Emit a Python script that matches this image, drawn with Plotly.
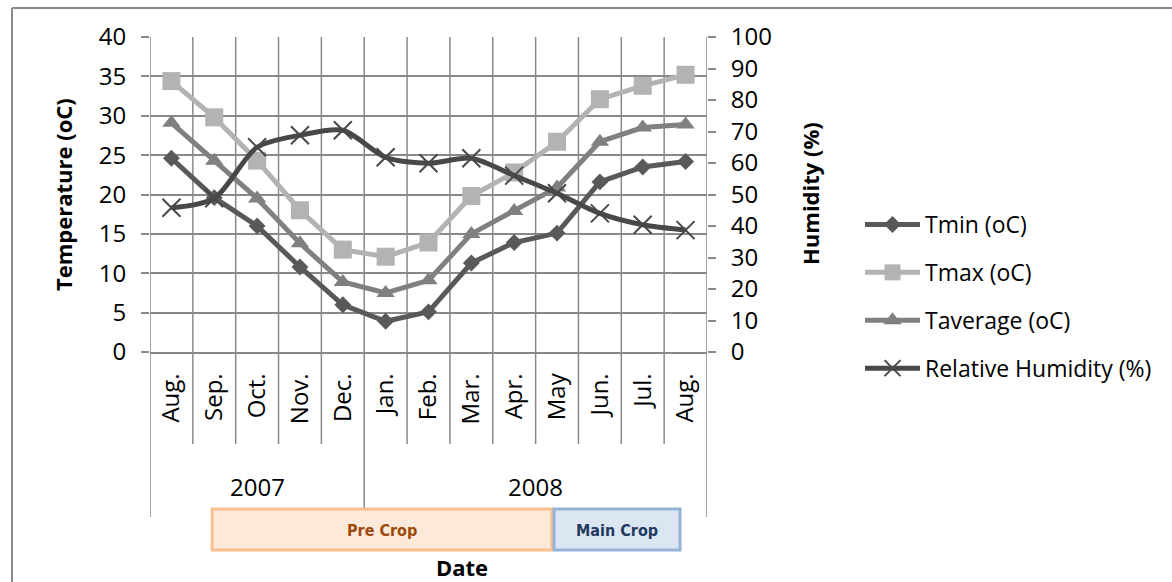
import plotly.graph_objects as go

# Monthly climate record, Aug 2007 - Aug 2008
months = ["Aug.", "Sep.", "Oct.", "Nov.", "Dec.", "Jan.", "Feb.",
          "Mar.", "Apr.", "May", "Jun.", "Jul.", "Aug."]
years = ["2007", "2008"]
year_first_month = [0, 5]          # index in `months` where each year starts

tmin = [24.6, 19.6, 16.0, 10.8, 6.0, 3.9, 5.1, 11.3, 13.9, 15.1, 21.6, 23.5, 24.2]
tmax = [34.4, 29.8, 24.3, 18.0, 13.0, 12.1, 13.9, 19.8, 22.8, 26.7, 32.1, 33.8, 35.2]
tavg = [29.1, 24.3, 19.5, 13.8, 8.9, 7.5, 9.1, 15.0, 17.9, 20.9, 26.7, 28.5, 28.9]
humidity = [45.8, 48.8, 65.0, 68.8, 70.4, 61.8, 59.9, 61.5, 56.0, 50.4, 44.0, 40.4, 38.7]

phases = ["Pre Crop", "Main Crop"]

# ---- page geometry ----
W, H = 1172, 582
ML, MR, MT, MB = 150, 465, 37, 230
PW, PH = W - ML - MR, H - MT - MB


def fx(px):
    """page x pixel -> paper fraction"""
    return (px - ML) / PW


def fy(py):
    """page y pixel -> paper fraction"""
    return (H - MB - py) / PH


GRID = "#898989"
FONT = "Open Sans, Noto Sans, sans-serif"
x = list(range(len(months)))

fig = go.Figure()

fig.add_trace(go.Scatter(
    x=x, y=tmin, name="Tmin (oC)", mode="lines+markers",
    line=dict(color="#595959", width=5),
    marker=dict(symbol="diamond", size=13, color="#595959"),
    legendgroup="a"))
fig.add_trace(go.Scatter(
    x=x, y=tmax, name="Tmax (oC)", mode="lines+markers",
    line=dict(color="#b3b3b3", width=5),
    marker=dict(symbol="square", size=18, color="#b3b3b3"),
    legendgroup="b"))
fig.add_trace(go.Scatter(
    x=x, y=tavg, name="Taverage (oC)", mode="lines+markers",
    line=dict(color="#808080", width=5),
    marker=dict(symbol="triangle-up", size=16, color="#808080"),
    legendgroup="c"))
fig.add_trace(go.Scatter(
    x=x, y=humidity, name="Relative Humidity (%)", mode="lines+markers",
    yaxis="y2",
    line=dict(color="#484848", width=5, shape="spline", smoothing=0.8),
    marker=dict(symbol="x-thin", size=18, color="#484848",
                line=dict(color="#484848", width=2)),
    legendgroup="d"))

shapes = []
# category boundaries: vertical grid in the plot, extended below as the
# two-level category axis dividers
year_edges = set(year_first_month[1:])
for b in range(len(months) + 1):
    long_line = b == 0 or b == len(months) or b in year_edges
    shapes.append(dict(
        type="line", xref="x", yref="paper",
        x0=b - 0.5, x1=b - 0.5, y0=1, y1=fy(517) if long_line else fy(444),
        line=dict(color=GRID, width=1.5), layer="below"))

# outer chart frame (left and top edges)
shapes.append(dict(type="line", xref="paper", yref="paper",
                   x0=fx(12), x1=fx(12), y0=fy(8), y1=fy(H + 5),
                   line=dict(color="#8a8a8a", width=2)))
shapes.append(dict(type="line", xref="paper", yref="paper",
                   x0=fx(12), x1=fx(W + 5), y0=fy(8), y1=fy(8),
                   line=dict(color="#8a8a8a", width=2)))

# crop phase boxes
phase_style = [
    dict(x0=0.95, x1=8.88, fill="#fde9d9", edge="#f9c08f", text="#9c4a0b"),
    dict(x0=8.93, x1=11.87, fill="#dce6f2", edge="#95b3d7", text="#1f3a5f"),
]
annotations = []
for label, st in zip(phases, phase_style):
    shapes.append(dict(type="rect", xref="x", yref="paper",
                       x0=st["x0"], x1=st["x1"], y0=fy(550), y1=fy(509),
                       fillcolor=st["fill"], line=dict(color=st["edge"], width=3)))
    annotations.append(dict(
        text=f"<b>{label}</b>", xref="x", yref="paper",
        x=(st["x0"] + st["x1"]) / 2, y=fy(530), showarrow=False,
        xanchor="center", yanchor="middle",
        font=dict(family="Liberation Sans Narrow, DejaVu Sans Condensed, sans-serif",
                  size=16, color=st["text"])))

# year labels under the month labels
for i, yr in enumerate(years):
    start = year_first_month[i]
    end = year_first_month[i + 1] - 1 if i + 1 < len(years) else len(months) - 1
    annotations.append(dict(
        text=yr, xref="x", yref="paper", x=(start + end) / 2, y=fy(486),
        showarrow=False, xanchor="center", yanchor="middle",
        font=dict(family=FONT, size=24, color="black")))

# axis titles
annotations.append(dict(text="<b>Temperature (oC)</b>", xref="paper", yref="paper",
                        x=fx(63), y=fy(195), textangle=-90, showarrow=False,
                        xanchor="center", yanchor="middle",
                        font=dict(family=FONT, size=22, color="black")))
annotations.append(dict(text="<b>Humidity (%)</b>", xref="paper", yref="paper",
                        x=fx(810), y=fy(194), textangle=-90, showarrow=False,
                        xanchor="center", yanchor="middle",
                        font=dict(family=FONT, size=22, color="black")))
annotations.append(dict(text="<b>Date</b>", xref="paper", yref="paper",
                        x=fx(462), y=fy(567), showarrow=False,
                        xanchor="center", yanchor="middle",
                        font=dict(family=FONT, size=22, color="black")))

fig.update_layout(
    width=W, height=H,
    margin=dict(l=ML, r=MR, t=MT, b=MB, autoexpand=False),
    paper_bgcolor="white", plot_bgcolor="white",
    font=dict(family=FONT, size=24, color="black"),
    showlegend=True,
    legend=dict(x=fx(860), xanchor="left", y=fy(203), yanchor="top",
                traceorder="grouped", tracegroupgap=15, itemwidth=55,
                font=dict(family=FONT, size=23, color="black"),
                bgcolor="rgba(0,0,0,0)"),
    xaxis=dict(range=[-0.5, len(months) - 0.5], tickmode="array",
               tickvals=x, ticktext=months, tickangle=-90,
               showgrid=False, zeroline=False, ticks="", ticklabelstandoff=10,
               showline=True, linecolor=GRID, linewidth=1.5,
               tickfont=dict(family=FONT, size=24, color="black")),
    yaxis=dict(range=[0, 40], dtick=5, tick0=0, ticks="outside", ticklen=8,
               tickcolor=GRID, tickwidth=1.5, showgrid=True, gridcolor=GRID,
               gridwidth=1.5, zeroline=False, showline=False, ticklabelstandoff=10,
               tickfont=dict(family=FONT, size=24, color="black")),
    yaxis2=dict(range=[0, 100], dtick=10, tick0=0, overlaying="y", side="right",
                ticks="outside", ticklen=8, tickcolor=GRID, tickwidth=1.5,
                showgrid=False, zeroline=False, showline=False, ticklabelstandoff=10,
                tickfont=dict(family=FONT, size=24, color="black")),
    shapes=shapes,
    annotations=annotations,
)

fig.write_html("out.html")
